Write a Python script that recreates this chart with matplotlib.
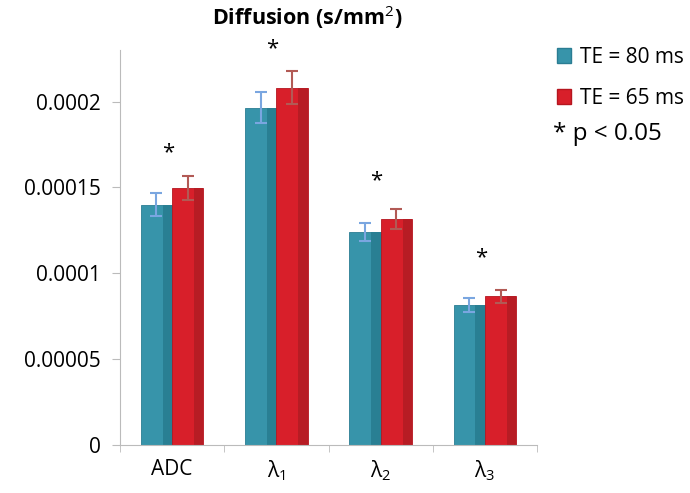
import numpy as np
import matplotlib
matplotlib.use("Agg")
import matplotlib.pyplot as plt
from matplotlib.patches import Patch

plt.rcParams['font.family'] = ['Open Sans', 'DejaVu Sans']
plt.rcParams['mathtext.fontset'] = 'custom'
plt.rcParams['mathtext.rm'] = 'Open Sans'
plt.rcParams['mathtext.it'] = 'Open Sans'
plt.rcParams['mathtext.bf'] = 'Open Sans:bold'

# data
categories = ["ADC", "λ$_1$", "λ$_2$", "λ$_3$"]
te80 = [1.40e-4, 1.965e-4, 1.24e-4, 8.15e-5]
te80_err = [6.5e-6, 9.0e-6, 5.5e-6, 4.0e-6]
te65 = [1.495e-4, 2.08e-4, 1.315e-4, 8.65e-5]
te65_err = [7.0e-6, 9.5e-6, 6.0e-6, 4.0e-6]
star_y = [1.70e-4, 2.31e-4, 1.54e-4, 1.09e-4]
yticks = [0, 0.00005, 0.0001, 0.00015, 0.0002]
ytick_labels = ["0", "0.00005", "0.0001", "0.00015", "0.0002"]

fig = plt.figure(figsize=(6.9, 4.93), dpi=100)
ax = fig.add_axes([120/690, 1 - 445/493, (537 - 120)/690, (445 - 50)/493])

x = np.arange(len(categories))
w = 0.30
blue, red = "#3794aa", "#d81f2a"
ax.bar(x - w/2, te80, w, color=blue, edgecolor="#2a7d93", linewidth=0.6)
ax.bar(x + w/2, te65, w, color=red, edgecolor="#b5161f", linewidth=0.6)
# darker right side of each bar (the 3d look)
ax.bar(x - w*0.15, te80, w*0.3, color="#297f93", linewidth=0)
ax.bar(x + w*0.85, te65, w*0.3, color="#b71c24", linewidth=0)
ax.errorbar(x - w/2, te80, yerr=te80_err, fmt="none", ecolor="#7aa6e0",
            elinewidth=1.5, capsize=4, capthick=1.5)
ax.errorbar(x + w/2, te65, yerr=te65_err, fmt="none", ecolor="#b25a55",
            elinewidth=1.5, capsize=4, capthick=1.5)

for xi, sy in zip(x, star_y):
    ax.text(xi - 0.04, sy, "*", ha="center", va="center", fontsize=16)

ax.set_xlim(-0.5, 3.5)
ax.set_ylim(0, 0.00023)
ax.set_yticks(yticks)
ax.set_yticklabels(ytick_labels)
ax.set_xticks(x)
ax.set_xticklabels(categories)
ax.set_xticks(np.arange(-0.5, 4, 1), minor=True)
ax.tick_params(axis="x", which="major", length=0, labelsize=15, pad=10)
ax.tick_params(axis="x", which="minor", length=5, color="#bbbbbb")
ax.tick_params(axis="y", length=6, color="#bbbbbb", labelsize=15, pad=8)
for s in ["top", "right"]:
    ax.spines[s].set_visible(False)
ax.spines["left"].set_color("#bbbbbb")
ax.spines["bottom"].set_color("#bbbbbb")

fig.text(307/690, 1 - 17/493, "Diffusion (s/mm$^2$)", ha="center", va="center",
         fontsize=15.5, fontweight="bold")

# legend
handles = [Patch(facecolor=blue, edgecolor="#2a7d93"), Patch(facecolor=red, edgecolor="#b5161f")]
fig.legend(handles, ["TE = 80 ms", "TE = 65 ms"], loc="upper left",
           bbox_to_anchor=(538/690, 1 - 28/493), frameon=False, fontsize=15,
           handlelength=0.7, handleheight=0.7, handletextpad=0.4, labelspacing=0.95)
fig.text(553/690, 1 - 134/493, "* p < 0.05", ha="left", va="center", fontsize=17.5)

fig.savefig("out.png", dpi=100)
